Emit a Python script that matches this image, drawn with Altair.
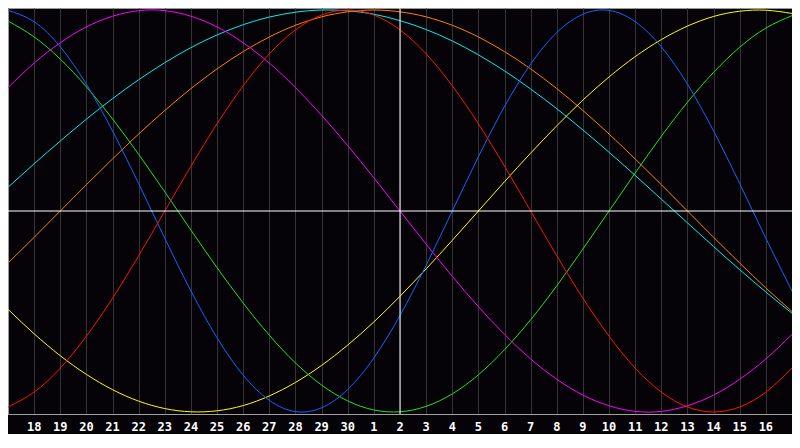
import altair as alt
import pandas as pd

# day-of-month labels for day index 0..30 (17th .. 30th, 1st .. 17th)
day_labels = [17, 18, 19, 20, 21, 22, 23, 24, 25, 26, 27, 28, 29, 30,
              1, 2, 3, 4, 5, 6, 7, 8, 9, 10, 11, 12, 13, 14, 15, 16, 17]
today_index = 15  # the "2" day, marked with the white vertical line

# cycle values read per day (index 0..30)
physical = [0.998, 0.942, 0.817, 0.631, 0.398, 0.136, -0.136, -0.398, -0.631, -0.817,
            -0.942, -0.998, -0.979, -0.888, -0.731, -0.520, -0.270, 0.0, 0.270, 0.520,
            0.731, 0.888, 0.979, 0.998, 0.942, 0.817, 0.631, 0.398, 0.136, -0.136, -0.398]
emotional = [-0.975, -0.901, -0.782, -0.623, -0.434, -0.223, 0.0, 0.223, 0.434, 0.623,
             0.782, 0.901, 0.975, 1.0, 0.975, 0.901, 0.782, 0.623, 0.434, 0.223,
             0.0, -0.223, -0.434, -0.623, -0.782, -0.901, -0.975, -1.0, -0.975, -0.901, -0.782]
intellectual = [0.945, 0.866, 0.756, 0.618, 0.458, 0.282, 0.095, -0.095, -0.282, -0.458,
                -0.618, -0.756, -0.866, -0.945, -0.990, -0.999, -0.972, -0.910, -0.815, -0.690,
                -0.541, -0.372, -0.189, 0.0, 0.189, 0.372, 0.541, 0.690, 0.815, 0.910, 0.972]
intuitive = [0.614, 0.736, 0.837, 0.916, 0.969, 0.997, 0.997, 0.969, 0.916, 0.837,
             0.736, 0.614, 0.476, 0.325, 0.165, 0.0, -0.165, -0.325, -0.476, -0.614,
             -0.736, -0.837, -0.916, -0.969, -0.997, -0.997, -0.969, -0.916, -0.837, -0.736, -0.614]
aesthetic = [-0.489, -0.611, -0.720, -0.813, -0.889, -0.946, -0.983, -0.999, -0.994, -0.968,
             -0.920, -0.853, -0.768, -0.667, -0.552, -0.424, -0.288, -0.146, 0.0, 0.146,
             0.288, 0.424, 0.552, 0.667, 0.768, 0.853, 0.920, 0.968, 0.994, 0.999, 0.983]
awareness = [-0.259, -0.131, 0.0, 0.131, 0.259, 0.383, 0.5, 0.609, 0.707, 0.793,
             0.866, 0.924, 0.966, 0.991, 1.0, 0.991, 0.966, 0.924, 0.866, 0.793,
             0.707, 0.609, 0.5, 0.383, 0.259, 0.131, 0.0, -0.131, -0.259, -0.383, -0.5]
spiritual = [0.118, 0.235, 0.348, 0.457, 0.559, 0.653, 0.738, 0.813, 0.876, 0.927,
             0.965, 0.989, 1.0, 0.996, 0.979, 0.947, 0.903, 0.846, 0.777, 0.697,
             0.607, 0.509, 0.403, 0.292, 0.177, 0.059, -0.059, -0.177, -0.292, -0.403, -0.509]

series_names = ["spiritual", "awareness", "aesthetic", "intuitive", "intellectual", "physical", "emotional"]
series_values = [spiritual, awareness, aesthetic, intuitive, intellectual, physical, emotional]
series_colors = ["#00f0f0", "#ff8000", "#ffff00", "#ff00ff", "#1ee61e", "#1464ff", "#ff1010"]

rows = []
for name, vals in zip(series_names, series_values):
    for i, v in enumerate(vals):
        rows.append({"i": i, "v": v, "s": name})
df = pd.DataFrame(rows)

label_df = pd.DataFrame({"i": list(range(1, len(day_labels) - 1)),
                         "t": [str(d) for d in day_labels[1:-1]]})

PLOT_W = 784
PLOT_H = 406

x_scale = alt.Scale(domain=[0, len(day_labels) - 1], nice=False, zero=False)
y_scale = alt.Scale(domain=[-1.01, 1.01], nice=False, zero=False)

x_enc = alt.X("i:Q", scale=x_scale,
              axis=alt.Axis(values=list(range(1, len(day_labels) - 1)), labels=False,
                            grid=True, gridColor="#353535", gridWidth=1,
                            domain=True, domainColor="#a0a0a0", ticks=False, title=None))

lines = alt.Chart(df).mark_line(strokeWidth=1, interpolate="natural").encode(
    x=x_enc,
    y=alt.Y("v:Q", scale=y_scale, axis=None),
    color=alt.Color("s:N", scale=alt.Scale(domain=series_names, range=series_colors), legend=None),
    detail="s:N",
)

zero_rule = alt.Chart(pd.DataFrame({"v": [0]})).mark_rule(color="white", strokeWidth=1).encode(
    y=alt.Y("v:Q", scale=y_scale, axis=None)
)
today_rule = alt.Chart(pd.DataFrame({"i": [today_index]})).mark_rule(color="white", strokeWidth=1).encode(
    x=x_enc
)

labels = alt.Chart(label_df).mark_text(
    color="white", font="DejaVu Sans Mono", fontWeight="bold", fontSize=12,
    baseline="middle", align="center"
).encode(
    x=x_enc,
    y=alt.value(PLOT_H + 13),
    text="t:N",
)

chart = alt.layer(lines, zero_rule, today_rule, labels).properties(
    width=PLOT_W, height=PLOT_H, background="#050308",
    padding={"left": 0, "top": 0, "right": 0, "bottom": 20},
    autosize=alt.AutoSizeParams(type="none"),
).configure_view(stroke="#9a9a9a", strokeWidth=1)

chart.save("out.html", embed_options={"renderer": "svg", "actions": False})
